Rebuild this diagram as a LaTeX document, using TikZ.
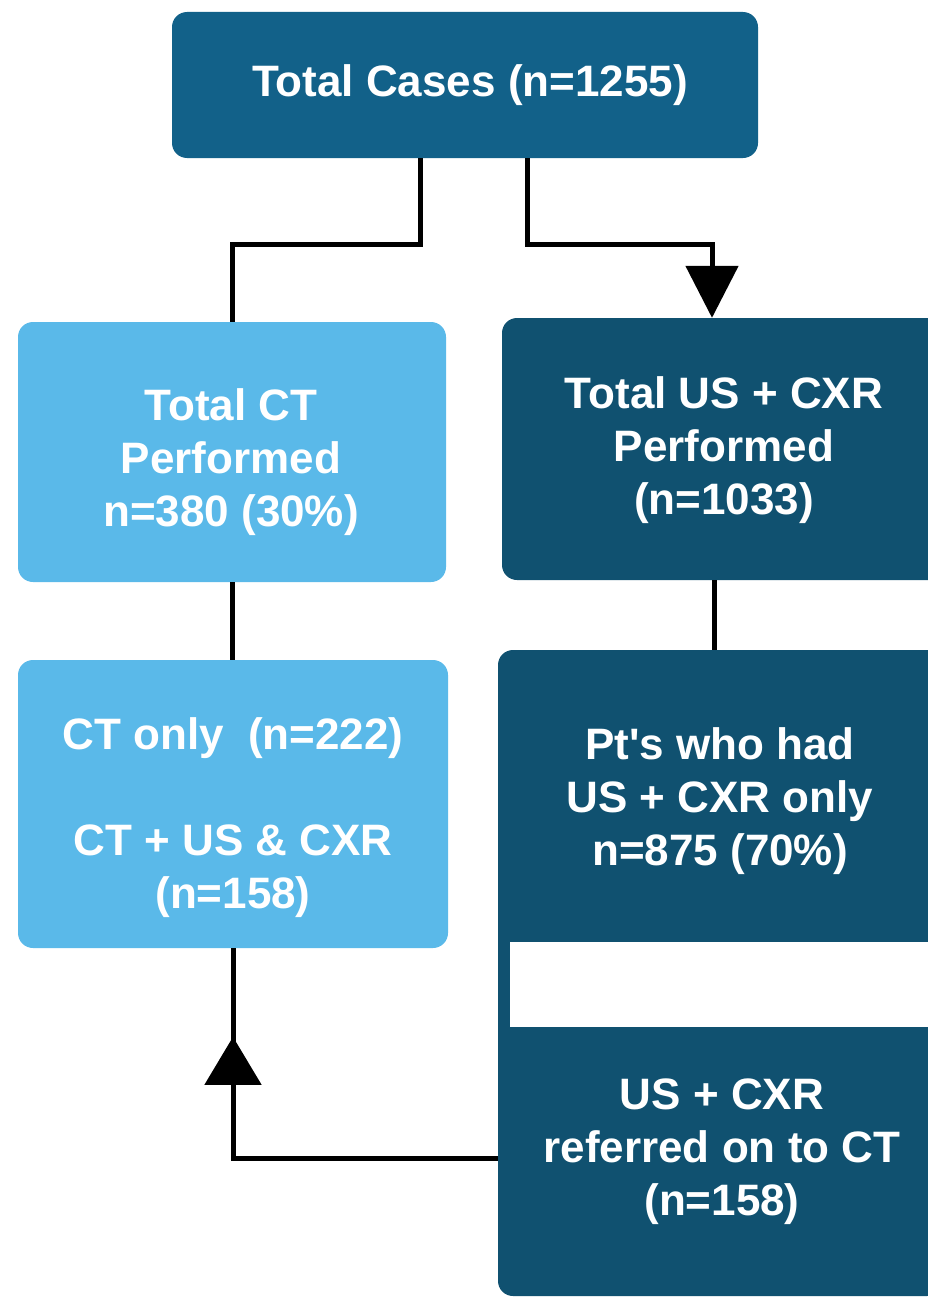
\documentclass[tikz,border=0pt]{standalone}
\usepackage{fontspec}
\setmainfont{Liberation Sans}
\usetikzlibrary{arrows.meta,calc,decorations.markings}
\definecolor{casesblue}{RGB}{18,97,137}
\definecolor{usblue}{RGB}{16,81,112}
\definecolor{ctblue}{RGB}{90,185,233}
\begin{document}
\begin{tikzpicture}[x=1pt,y=-1pt,
  box/.style={rectangle,rounded corners=15pt,draw=none,inner sep=0pt},
  boxtext/.style={text=white,font=\bfseries\fontsize{44}{53}\selectfont,align=center,inner sep=0pt},
  conn/.style={draw=black,line width=5pt}
]
\useasboundingbox (0,0) rectangle (928,1298);
\clip (0,0) rectangle (928,1298);

% boxes
\node[box,fill=casesblue,minimum width=586pt,minimum height=146pt] (total) at (465,85) {};
\node[box,fill=ctblue,minimum width=428pt,minimum height=260pt] (ct) at (232,452) {};
\node[box,fill=usblue,minimum width=444pt,minimum height=262pt] (us) at (724,449) {};
\node[box,fill=ctblue,minimum width=430pt,minimum height=288pt] (split) at (233,804) {};
\node[box,fill=usblue,minimum width=444pt,minimum height=646pt] (lower) at (720,973) {};
% white band separating the two lower parts
\fill[white] (510,942) rectangle (950,1027);

% texts
\node[boxtext] (totaltext) at (470,85) {Total Cases (n=1255)};
\node[boxtext] (cttext) at (231,462) {Total CT\\Performed\\n=380 (30\%)};
\node[boxtext] (ustext) at (724,450) {Total US + CXR\\Performed\\(n=1033)};
\node[boxtext] (splittext) at (233,818) {CT only\ \ (n=222)\\[53pt]CT + US \& CXR\\(n=158)};
\node[boxtext] (onlytext) at (720,801) {Pt\textquotesingle s who had\\US + CXR only\\n=875 (70\%)};
\node[boxtext] (reftext) at (722,1152) {US + CXR\\referred on to CT\\(n=158)};

% connectors
\draw[conn] ([xshift=-45pt]total.south) -- ++(0,86) -| (ct.north);
\draw[conn,-{Triangle[width=52pt,length=52pt]}] ([xshift=62pt]total.south) -- ++(0,86) -| ([xshift=-12pt]us.north);
\draw[conn] (ct.south) -- (ct.south |- split.north);
\draw[conn] ($(us.south)+(-10,0)$) -- ($(us.south |- lower.north)+(-10,0)$);
\draw[conn,postaction={decorate},
  decoration={markings,mark=at position 386pt with {\arrow{Triangle[width=56pt,length=48pt]}}}]
  ($(lower.west |- reftext.center)+(0,6)$) -| (split.south);
\end{tikzpicture}
\end{document}
